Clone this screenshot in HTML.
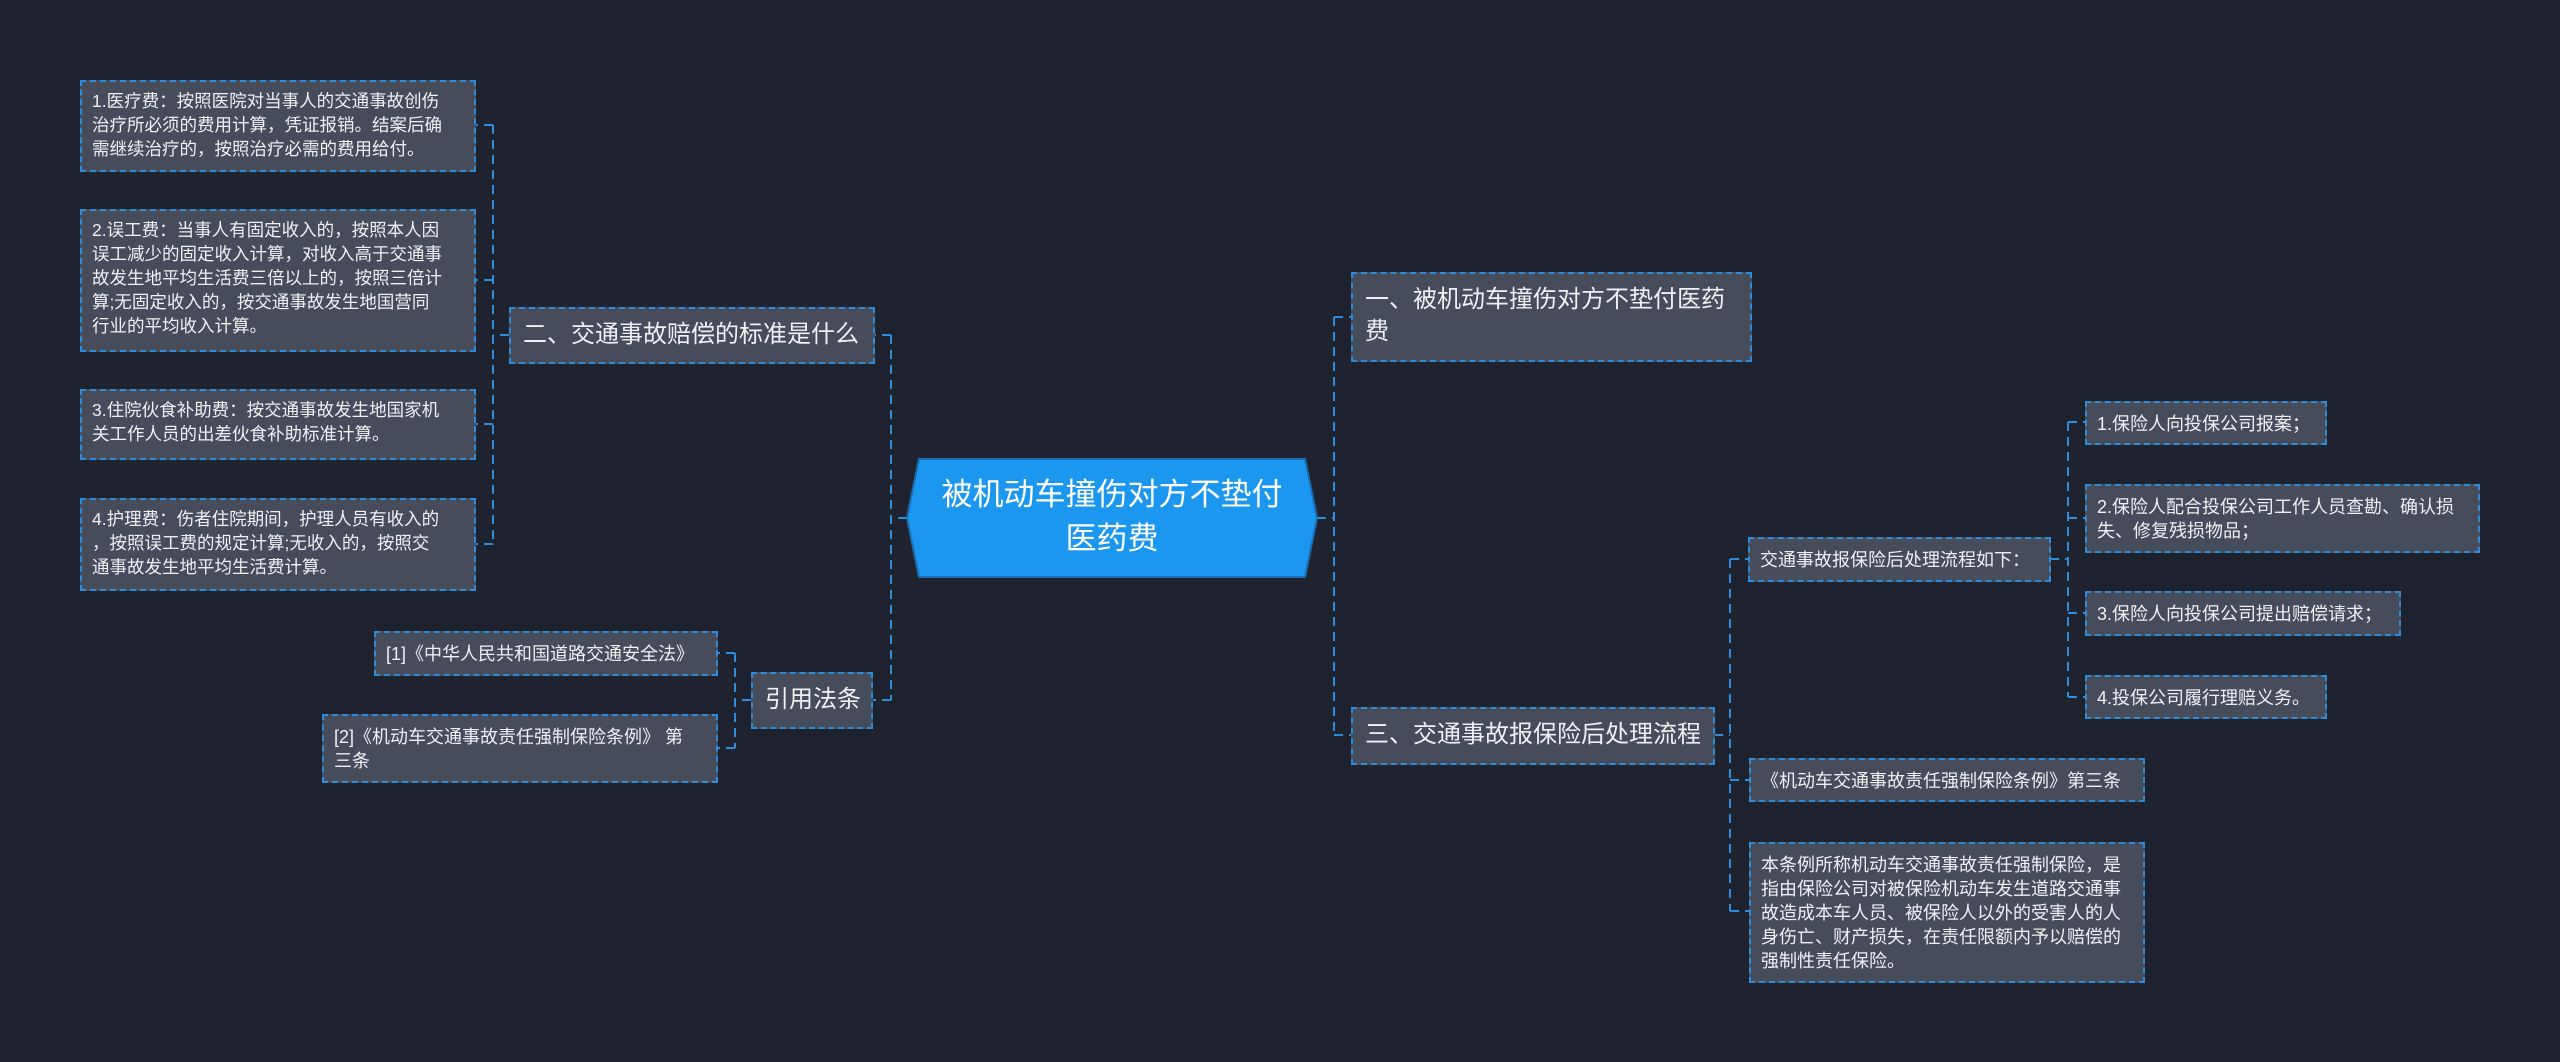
<!DOCTYPE html>
<html><head><meta charset="utf-8">
<style>
body{margin:0;width:2560px;height:1062px;background:#1f2330;overflow:hidden;position:relative;font-family:"Liberation Sans","Noto Sans CJK SC",sans-serif;}
.b{position:absolute;box-sizing:border-box;background:#464c5a;border:2px dashed #2d8ddc;color:#eef0f3;white-space:nowrap;}
.s{font-size:18px;line-height:24px;padding:7px 10px;}
.l{font-size:24px;line-height:32px;padding:10px 12px;}
svg{position:absolute;left:0;top:0;}
</style></head><body>
<svg width="2560" height="1062">
<g stroke="#2d8ddc" stroke-width="2" stroke-dasharray="9,6" fill="none">
<path d="M907 518H891M891 335V700M891 335H874M891 700H873"/>
<path d="M509 335H493M493 125V544M493 125H476M493 280H476M493 424H476M493 544H476"/>
<path d="M751 700H735M735 653V748M735 653H717M735 748H717"/>
<path d="M1317 518H1334M1334 317V735M1334 317H1351M1334 735H1351"/>
<path d="M1714 735H1730M1730 559V911M1730 559H1748M1730 780H1749M1730 911H1749"/>
<path d="M2050 559H2068M2068 422V697M2068 422H2085M2068 518H2085M2068 613H2085M2068 697H2085"/>
</g>
<polygon points="907,518 919,459 1305,459 1317,518 1305,577 919,577" fill="#1b97f0" stroke="#1a6fb8" stroke-width="2"/>
<text x="1112" y="505" fill="#fff" font-size="31" text-anchor="middle" font-family="Liberation Sans, Noto Sans CJK SC, sans-serif">被机动车撞伤对方不垫付</text>
<text x="1112" y="549" fill="#fff" font-size="31" text-anchor="middle" font-family="Liberation Sans, Noto Sans CJK SC, sans-serif">医药费</text>
</svg>

<div class="b s" style="left:80px;top:80px;width:396px;height:92px;font-size:17.5px">1.医疗费：按照医院对当事人的交通事故创伤<br>治疗所必须的费用计算，凭证报销。结案后确<br>需继续治疗的，按照治疗必需的费用给付。</div>
<div class="b s" style="left:80px;top:209px;width:396px;height:143px;font-size:17.5px">2.误工费：当事人有固定收入的，按照本人因<br>误工减少的固定收入计算，对收入高于交通事<br>故发生地平均生活费三倍以上的，按照三倍计<br>算;无固定收入的，按交通事故发生地国营同<br>行业的平均收入计算。</div>
<div class="b s" style="left:80px;top:389px;width:396px;height:71px;font-size:17.5px">3.住院伙食补助费：按交通事故发生地国家机<br>关工作人员的出差伙食补助标准计算。</div>
<div class="b s" style="left:80px;top:498px;width:396px;height:93px;font-size:17.5px">4.护理费：伤者住院期间，护理人员有收入的<br>，按照误工费的规定计算;无收入的，按照交<br>通事故发生地平均生活费计算。</div>
<div class="b l" style="left:509px;top:307px;width:366px;height:57px;padding-top:10px">二、交通事故赔偿的标准是什么</div>
<div class="b l" style="left:751px;top:672px;width:122px;height:57px">引用法条</div>
<div class="b s" style="left:374px;top:631px;width:344px;height:45px;padding-top:9px">[1]《中华人民共和国道路交通安全法》</div>
<div class="b s" style="left:322px;top:714px;width:396px;height:69px;padding-top:9px">[2]《机动车交通事故责任强制保险条例》 第<br>三条</div>

<div class="b l" style="left:1351px;top:272px;width:401px;height:90px">一、被机动车撞伤对方不垫付医药<br>费</div>
<div class="b l" style="left:1351px;top:707px;width:364px;height:58px">三、交通事故报保险后处理流程</div>
<div class="b s" style="left:1748px;top:537px;width:303px;height:45px;padding-top:9px">交通事故报保险后处理流程如下：</div>
<div class="b s" style="left:2085px;top:401px;width:242px;height:44px;padding-top:9px">1.保险人向投保公司报案；</div>
<div class="b s" style="left:2085px;top:484px;width:395px;height:69px;padding-top:9px">2.保险人配合投保公司工作人员查勘、确认损<br>失、修复残损物品；</div>
<div class="b s" style="left:2085px;top:591px;width:316px;height:45px;padding-top:9px">3.保险人向投保公司提出赔偿请求；</div>
<div class="b s" style="left:2085px;top:675px;width:242px;height:44px;padding-top:9px">4.投保公司履行理赔义务。</div>
<div class="b s" style="left:1749px;top:758px;width:396px;height:44px;padding-top:9px">《机动车交通事故责任强制保险条例》第三条</div>
<div class="b s" style="left:1749px;top:842px;width:396px;height:141px;padding-top:9px">本条例所称机动车交通事故责任强制保险，是<br>指由保险公司对被保险机动车发生道路交通事<br>故造成本车人员、被保险人以外的受害人的人<br>身伤亡、财产损失，在责任限额内予以赔偿的<br>强制性责任保险。</div>
</body></html>
